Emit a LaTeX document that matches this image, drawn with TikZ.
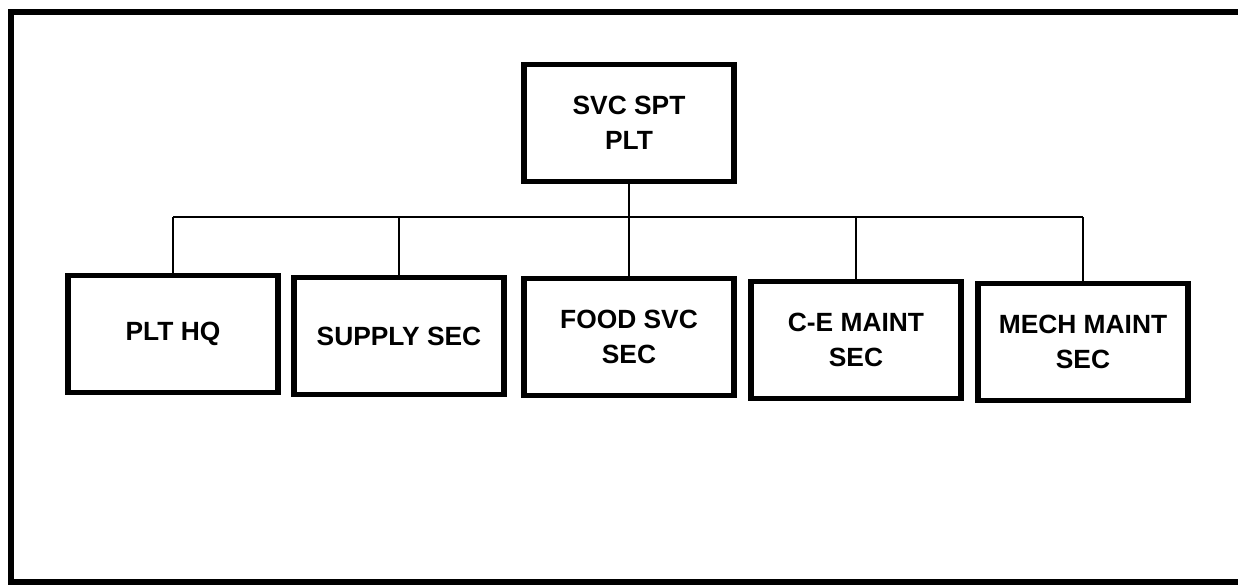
\documentclass[tikz,border=0pt]{standalone}
\usepackage{fontspec}
\setmainfont{Liberation Sans}
\usepackage{tikz}
\usetikzlibrary{positioning,calc}

\begin{document}
\begin{tikzpicture}[
  x=0.02cm, y=-0.02cm,
  unitbox/.style={draw, line width=3pt, minimum width=4.2cm, minimum height=2.35cm,
    align=center, inner sep=2pt, font=\fontsize{15}{20}\selectfont\bfseries},
  tie/.style={line width=0.8pt}
]
\useasboundingbox (0,0) rectangle (1238,587);

% ==================== Khung ngoai ====================
\draw[line width=3.4pt] (1240,12) -- (11,12) -- (11,582) -- (1240,582);

% ==================== Chi huy ====================
\node (plt) [unitbox] at (629,123) {SVC SPT\\PLT};

% ==================== Cac phan doi ====================
\node (hq)     [unitbox] at (173,334) {PLT HQ};
\node (supply) [unitbox] at (399,336) {SUPPLY SEC};
\node (food)   [unitbox] at (629,337) {FOOD SVC\\SEC};
\node (cemnt)  [unitbox] at (856,340) {C-E MAINT\\SEC};
\node (mech)   [unitbox] at (1083,342) {MECH MAINT\\SEC};

% Duong noi
\coordinate (bus) at (629,217);
\draw[tie] (plt) -- (bus);
\draw[tie] (hq.north |- bus) -- (mech.north |- bus);
\foreach \u in {hq,supply,food,cemnt,mech}
  \draw[tie] (\u.north) -- (\u.north |- bus);

\end{tikzpicture}
\end{document}
